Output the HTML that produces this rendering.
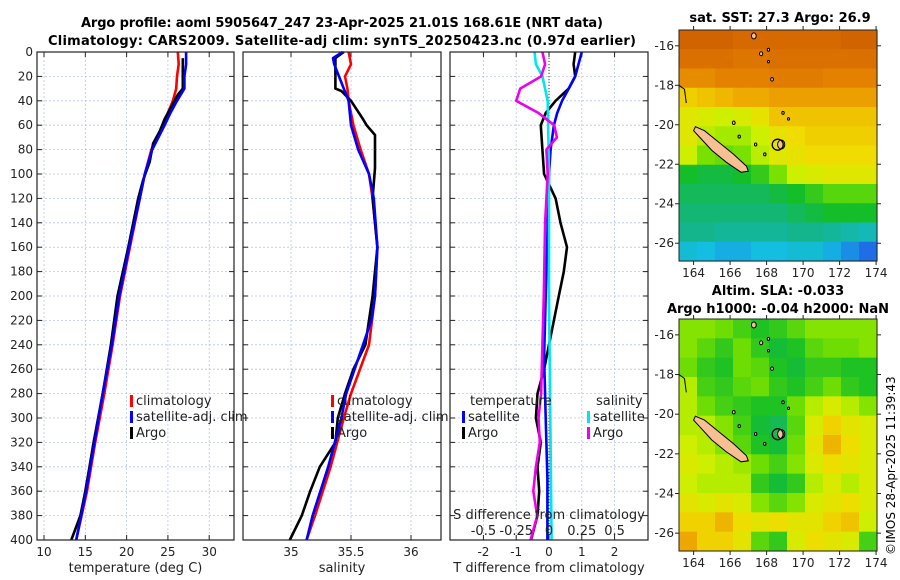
<!DOCTYPE html>
<html><head><meta charset="utf-8"><style>
body{margin:0;background:#fff}
svg{display:block;font-family:"DejaVu Sans","Liberation Sans",sans-serif}
</style></head><body>
<svg id="fig" width="900" height="580" viewBox="0 0 900 580" xmlns="http://www.w3.org/2000/svg">
<text x="342" y="27" font-size="13" font-weight="bold" text-anchor="middle" textLength="522">Argo profile: aoml 5905647_247 23-Apr-2025 21.01S 168.61E (NRT data)</text>
<text x="342" y="45" font-size="13" font-weight="bold" text-anchor="middle" textLength="588">Climatology: CARS2009. Satellite-adj clim: synTS_20250423.nc (0.97d earlier)</text>
<text x="780" y="22" font-size="13" font-weight="bold" text-anchor="middle">sat. SST: 27.3 Argo: 26.9</text>
<text x="778" y="295" font-size="13" font-weight="bold" text-anchor="middle">Altim. SLA: -0.033</text>
<text x="778" y="313" font-size="13" font-weight="bold" text-anchor="middle">Argo h1000: -0.04 h2000: NaN</text>
<text transform="translate(895,555) rotate(-90)" font-size="12">©IMOS 28-Apr-2025 11:39:43</text>
<g id="root"></g>
</svg>
<script>
// ---- data ----
const depthTicks=[0,20,40,60,80,100,120,140,160,180,200,220,240,260,280,300,320,340,360,380,400];
const tempTicks=[10,15,20,25,30];
const salTicks=[35,35.5,36];
const salTickLabels=["35","35.5","36"];
const dTTicks=[-2,-1,0,1,2];
const dSTicks=[-0.5,-0.25,0,0.25,0.5];
const dSTickLabels=["-0.5","-0.25","0","0.25","0.5"];

const tClimDepth=[0,10,20,30,40,50,60,80,100,120,140,160,180,200,240,280,320,360,400];
const tClimVal=[26.2,26.3,26.1,26.0,25.6,25.0,24.4,23.0,22.2,21.6,21.0,20.4,19.8,19.2,18.3,17.3,16.2,15.2,13.9];
const tSatDepth=[0,10,20,30,40,50,60,80,100,120,160,200,240,280,320,360,400];
const tSatVal=[27.2,27.2,27.0,27.0,26.1,25.3,24.6,23.1,22.2,21.6,20.3,19.1,18.2,17.1,16.1,15.1,13.9];
const tArgoDepth=[5,30,35,45,55,65,75,90,105,120,160,200,240,280,320,340,360,380,400];
const tArgoVal=[26.8,26.8,26.2,25.4,24.6,24.0,23.2,22.8,22.0,21.4,20.2,18.9,18.1,17.1,16.0,15.5,15.0,14.4,13.3];

const sClimDepth=[0,10,20,30,40,60,80,100,120,160,200,240,280,300,340,380,400];
const sClimVal=[35.48,35.5,35.45,35.47,35.48,35.52,35.58,35.65,35.68,35.72,35.7,35.65,35.5,35.44,35.33,35.2,35.13];
const sSatDepth=[0,5,10,20,30,40,60,80,100,120,160,200,220,240,280,300,340,380,400];
const sSatVal=[35.43,35.35,35.36,35.4,35.44,35.48,35.5,35.56,35.65,35.69,35.72,35.7,35.67,35.6,35.46,35.42,35.31,35.18,35.13];
const sArgoDepth=[0,5,30,32,40,55,60,68,85,95,120,160,200,240,260,280,300,320,340,360,380,400];
const sArgoVal=[35.44,35.37,35.37,35.42,35.5,35.6,35.63,35.7,35.7,35.7,35.68,35.72,35.68,35.62,35.52,35.45,35.39,35.37,35.24,35.16,35.09,34.99];

const dTSatDepth=[0,10,20,30,40,50,60,80,100,150,200,250,300,350,400];
const dTSatVal=[1.0,0.9,0.8,0.6,0.4,0.25,0.15,0.05,0.0,-0.05,-0.1,-0.15,-0.1,-0.05,-0.05];
const dTArgoDepth=[0,10,20,30,40,50,60,80,100,120,140,160,180,200,220,240,260,280,300,320,340,360,380,400];
const dTArgoVal=[0.8,0.75,0.8,0.6,0.2,-0.1,-0.25,-0.2,-0.15,0.2,0.35,0.55,0.45,0.3,0.15,0.0,-0.15,-0.35,-0.4,-0.25,-0.35,-0.3,-0.35,-0.55];
const dSSatDepth=[0,10,20,40,100,200,300,400];
const dSSatVal=[-0.11,-0.1,-0.05,-0.01,0,0,0.01,0.02];
const dSArgoDepth=[0,10,20,30,40,50,60,70,80,100,140,200,240,280,300,320,340,360,380,400];
const dSArgoVal=[-0.05,-0.03,-0.06,-0.22,-0.25,-0.08,0.04,0.06,-0.02,-0.01,-0.03,-0.04,-0.05,-0.06,-0.08,-0.07,-0.1,-0.12,-0.09,-0.14];

const lonTicks=[164,166,168,170,172,174];
const latTicks=[-16,-18,-20,-22,-24,-26];
const sstGrid=[
[28.7,28.7,28.7,28.6,28.6,28.6,28.6,28.6,28.6,28.7,28.7],
[28.5,28.5,28.5,28.4,28.4,28.5,28.5,28.5,28.5,28.5,28.5],
[28.1,28.1,28.2,28.2,28.2,28.3,28.3,28.3,28.2,28.2,28.2],
[27.5,27.6,27.7,27.8,27.8,27.9,27.9,27.9,27.9,27.9,27.9],
[27.2,27.1,27.0,27.1,27.3,27.6,27.6,27.6,27.6,27.6,27.6],
[27.2,26.9,26.8,26.8,27.0,27.3,27.4,27.5,27.5,27.5,27.5],
[27.0,26.6,26.5,26.6,26.9,27.2,27.3,27.4,27.4,27.4,27.4],
[26.0,25.9,25.9,26.0,26.2,26.6,27.0,27.1,27.2,27.2,27.2],
[25.8,25.8,25.8,25.8,25.8,25.9,26.0,26.2,26.4,26.4,26.4],
[25.7,25.7,25.7,25.7,25.7,25.7,25.8,25.9,26.0,26.0,26.0],
[25.6,25.6,25.5,25.5,25.5,25.5,25.6,25.6,25.5,25.4,25.3],
[25.1,25.0,24.9,24.9,25.0,25.0,25.1,25.1,24.9,24.7,24.5]];
const slaGrid=[
[-0.02,-0.02,-0.03,-0.05,-0.07,-0.06,-0.04,-0.02,-0.02,-0.02,-0.02],
[-0.02,-0.04,-0.06,-0.03,-0.06,-0.08,-0.07,-0.04,-0.03,-0.03,-0.02],
[-0.03,-0.06,-0.07,-0.03,-0.04,-0.07,-0.08,-0.06,-0.06,-0.07,-0.07],
[0.0,-0.05,-0.06,-0.04,-0.03,-0.06,-0.07,-0.05,-0.03,-0.06,-0.07],
[0.0,-0.03,-0.05,-0.06,-0.07,-0.07,-0.03,0.0,0.02,0.0,-0.02],
[0.0,0.0,-0.02,-0.05,-0.08,-0.09,-0.04,0.02,0.05,0.03,0.02],
[0.01,0.0,-0.02,-0.04,-0.07,-0.08,-0.03,0.03,0.07,0.04,0.02],
[0.02,0.01,0.0,-0.01,-0.03,-0.05,-0.02,0.02,0.04,0.03,0.02],
[0.01,0.0,0.0,0.0,-0.06,-0.08,-0.06,0.0,0.02,0.0,0.02],
[0.03,0.02,0.03,0.02,-0.02,-0.04,-0.02,0.02,0.03,0.04,0.02],
[0.05,0.05,0.07,0.04,0.03,0.04,0.03,0.03,0.05,0.06,0.01],
[0.08,0.05,0.05,0.03,-0.04,-0.06,0.02,0.04,0.03,0.02,-0.05]];
const nCaledonia=[[164.1,-20.1],[164.6,-20.3],[165.4,-20.9],[166.2,-21.5],[166.9,-22.1],[167.0,-22.35],[166.6,-22.4],[165.8,-21.9],[165.0,-21.3],[164.3,-20.6],[164.0,-20.3]];
const smallIslands=[[168.8,-21.0,0.9],[167.3,-15.5,0.6],[167.7,-16.4,0.4],[168.1,-16.2,0.3],[168.3,-17.7,0.35],[168.9,-19.4,0.3],[169.2,-19.7,0.25],[166.2,-19.9,0.35],[167.4,-21.0,0.3],[167.9,-21.5,0.3],[166.5,-20.6,0.3],[168.1,-16.8,0.25]];
const argoLon=168.61, argoLat=-21.01;

// ---- helpers ----
const NS="http://www.w3.org/2000/svg";
const root=document.getElementById('root');
function mk(tag,attrs,parent){const e=document.createElementNS(NS,tag);for(const k in attrs)e.setAttribute(k,attrs[k]);(parent||root).appendChild(e);return e;}
const PT=52,PB=540,DMAX=400;
const yD=d=>PT+d/DMAX*(PB-PT);

function panel(name,x0,x1,vmin,vmax,xt,xtl,xlabel,showY){
  const g=mk('g',{});
  
  
  const sx=v=>x0+(v-vmin)/(vmax-vmin)*(x1-x0);
  depthTicks.forEach(d=>{
    const y=yD(d);
    const l=mk('line',{x1:x0,x2:x1,y1:y,y2:y,stroke:'#b8c4e8','stroke-width':0.8,'stroke-dasharray':'2,2'},g);
    
    
    mk('line',{x1:x0,x2:x0+5,y1:y,y2:y,stroke:'#222'},g);
    mk('line',{x1:x1,x2:x1-5,y1:y,y2:y,stroke:'#222'},g);
    if(showY){const t=mk('text',{x:x0-4,y:y+4,'font-size':12,'text-anchor':'end',fill:'#222'},g);t.textContent=d;
      
      }
  });
  xt.forEach((v,i)=>{
    const x=sx(v);
    const l=mk('line',{x1:x,x2:x,y1:PT,y2:PB,stroke:'#b8c4e8','stroke-width':0.8,'stroke-dasharray':'2,2'},g);
    
    
    mk('line',{x1:x,x2:x,y1:PB,y2:PB-5,stroke:'#222'},g);
    mk('line',{x1:x,x2:x,y1:PT,y2:PT+5,stroke:'#222'},g);
    const t=mk('text',{x:x,y:PB+16,'font-size':12,'text-anchor':'middle',fill:'#222'},g);t.textContent=xtl[i];
    
    
  });
  const lab=mk('text',{x:(x0+x1)/2,y:PB+32,'font-size':13,'text-anchor':'middle',fill:'#222'},g);lab.textContent=xlabel;
  
  
  return {g,sx};
}
function line(p,sx,depths,vals,color,name){
  const pts=depths.map((d,i)=>sx(vals[i]).toFixed(1)+','+yD(d).toFixed(1)).join(' ');
  const l=mk('polyline',{points:pts,fill:'none',stroke:color,'stroke-width':2.6,'stroke-linejoin':'round'},p);
  
  
}
function frame(g,x0,x1){mk('rect',{x:x0,y:PT,width:x1-x0,height:PB-PT,fill:'none',stroke:'#222','stroke-width':1.2},g);}
function legend(g,x,y,items){
  items.forEach((it,i)=>{
    const yy=y+i*16;
    const m=mk('rect',{x:x,y:yy-10,width:3,height:12,fill:it[0]},g);
    
    
    const t=mk('text',{x:x+6,y:yy,'font-size':13,fill:'#222'},g);t.textContent=it[1];
    
    
  });
}

// Panel 1 temperature
const p1=panel('temperature-panel',37,234,9.15,33.0,tempTicks,tempTicks.map(String),'temperature (deg C)',true);
line(p1.g,p1.sx,tClimDepth,tClimVal,'#ff0000','temp-climatology-line');
line(p1.g,p1.sx,tArgoDepth,tArgoVal,'#000000','temp-argo-line');
line(p1.g,p1.sx,tSatDepth,tSatVal,'#0000ff','temp-satellite-line');
legend(p1.g,130,405,[['#f00','climatology'],['#00f','satellite-adj. clim'],['#000','Argo']]);
frame(p1.g,37,234);

// Panel 2 salinity
const p2=panel('salinity-panel',243,441,34.6,36.25,salTicks,salTickLabels,'salinity',false);
line(p2.g,p2.sx,sClimDepth,sClimVal,'#ff0000','sal-climatology-line');
line(p2.g,p2.sx,sArgoDepth,sArgoVal,'#000000','sal-argo-line');
line(p2.g,p2.sx,sSatDepth,sSatVal,'#0000ff','sal-satellite-line');
legend(p2.g,331,405,[['#f00','climatology'],['#00f','satellite-adj. clim'],['#000','Argo']]);
frame(p2.g,243,441);

// Panel 3 differences
const p3=panel('difference-panel',450,648,-3.02,3.02,dTTicks,dTTicks.map(String),'T difference from climatology',false);
const sxS=v=>p3.sx(v*4);
mk('line',{x1:p3.sx(0),x2:p3.sx(0),y1:PT,y2:PB,stroke:'#333','stroke-width':1,'stroke-dasharray':'1,2'},p3.g);
line(p3.g,p3.sx,dTArgoDepth,dTArgoVal,'#000000','dT-argo-line');
line(p3.g,p3.sx,dTSatDepth,dTSatVal,'#0000ff','dT-satellite-line');
line(p3.g,sxS,dSSatDepth,dSSatVal,'#00e5ee','dS-satellite-line');
line(p3.g,sxS,dSArgoDepth,dSArgoVal,'#ee00ee','dS-argo-line');
{const t=mk('text',{x:470,y:405,'font-size':13,fill:'#222'},p3.g);t.textContent='temperature';


const t2=mk('text',{x:596,y:405,'font-size':13,fill:'#222'},p3.g);t2.textContent='salinity';

}
legend(p3.g,462,421,[['#00f','satellite'],['#000','Argo']]);
legend(p3.g,587,421,[['#00e5ee','satellite'],['#e0e','Argo']]);
{const t=mk('text',{x:549,y:519,'font-size':13,'text-anchor':'middle',fill:'#222'},p3.g);t.textContent='S difference from climatology';

}
dSTicks.forEach((v,i)=>{const t=mk('text',{x:sxS(v),y:535,'font-size':13,'text-anchor':'middle',fill:'#222'},p3.g);t.textContent=dSTickLabels[i];

});
frame(p3.g,450,648);

// ---- maps ----
const SSTstops=[[24.5,[30,110,230]],[25.0,[20,190,225]],[25.6,[20,180,140]],[26.0,[20,190,40]],[26.6,[120,225,0]],[27.0,[205,240,0]],[27.4,[240,220,0]],[27.8,[238,170,0]],[28.2,[228,130,0]],[28.7,[210,100,0]]];
function cmap(v){
  if(v<=SSTstops[0][0])return 'rgb('+SSTstops[0][1]+')';
  for(let i=1;i<SSTstops.length;i++){if(v<=SSTstops[i][0]){const a=SSTstops[i-1],b=SSTstops[i],f=(v-a[0])/(b[0]-a[0]);return 'rgb('+a[1].map((c,k)=>Math.round(c+f*(b[1][k]-c))).join(',')+')';}}
  return 'rgb('+SSTstops[SSTstops.length-1][1]+')';
}
const slaToCmap=v=>25.95+(v+0.08)/0.17*2.0;
function map(name,y0,y1,latTop,latBot,grid,conv,showX){
  const x0=679,x1=877,lonL=163.2,lonR=174.05;
  const g=mk('g',{});
  
  
  const sx=lo=>x0+(lo-lonL)/(lonR-lonL)*(x1-x0);
  const sy=la=>y0+(latTop-la)/(latTop-latBot)*(y1-y0);
  const nr=grid.length,nc=grid[0].length;
  const cw=(x1-x0)/nc,ch=(y1-y0)/nr;
  grid.forEach((row,r)=>row.forEach((v,c)=>{
    const cell=mk('rect',{x:(x0+c*cw).toFixed(2),y:(y0+r*ch).toFixed(2),width:(cw+0.6).toFixed(2),height:(ch+0.6).toFixed(2),fill:cmap(conv(v))},g);
    
    
  }));
  const nc2=mk('polygon',{points:nCaledonia.map(p=>sx(p[0]).toFixed(1)+','+sy(p[1]).toFixed(1)).join(' '),fill:'#f8bf94',stroke:'#000','stroke-width':1},g);
  
  
  smallIslands.forEach(s=>{const e=mk('ellipse',{cx:sx(s[0]),cy:sy(s[1]),rx:s[2]*4,ry:s[2]*5,fill:'#f8bf94',stroke:'#000','stroke-width':1},g);
    
    });
  mk('polyline',{points:[[163.2,-18.0],[163.5,-18.2],[163.6,-18.9]].map(p=>sx(p[0])+','+sy(p[1])).join(' '),fill:'none',stroke:'#000','stroke-width':1},g);
  const m=mk('circle',{cx:sx(argoLon),cy:sy(argoLat),r:5.5,fill:'none',stroke:'#000','stroke-width':1.3},g);
  
  
  mk('rect',{x:x0,y:y0,width:x1-x0,height:y1-y0,fill:'none',stroke:'#222','stroke-width':1},g);
  latTicks.forEach(la=>{const y=sy(la);mk('line',{x1:x0,x2:x0-4,y1:y,y2:y,stroke:'#222'},g);mk('line',{x1:x1,x2:x1+4,y1:y,y2:y,stroke:'#222'},g);
    const t=mk('text',{x:x0-5,y:y+4,'font-size':12,'text-anchor':'end',fill:'#222'},g);t.textContent=la;
    
    });
  lonTicks.forEach(lo=>{const x=sx(lo);mk('line',{x1:x,x2:x,y1:y1,y2:y1+4,stroke:'#222'},g);mk('line',{x1:x,x2:x,y1:y0,y2:y0-4,stroke:'#222'},g);
    if(showX){const t=mk('text',{x:x,y:y1+16,'font-size':12,'text-anchor':'middle',fill:'#222'},g);t.textContent=lo;
    
    }});
}
map('sst-map',30,261,-15.2,-26.9,sstGrid,v=>v,true);
map('sla-map',319,551,-15.2,-26.9,slaGrid,slaToCmap,true);
</script>
</body></html>
